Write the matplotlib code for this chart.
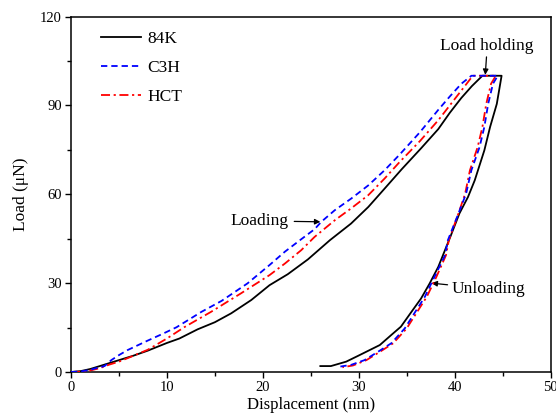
import matplotlib
matplotlib.use("Agg")
import matplotlib.pyplot as plt
from matplotlib.ticker import MultipleLocator

plt.rcParams['font.family'] = ['Liberation Serif', 'DejaVu Serif']
plt.rcParams['mathtext.fontset'] = 'stix'

# 84K: loading, hold, unloading
k84_load_x = [0, 1, 2, 3, 4, 5, 6.5, 8, 10, 11.3, 13.2, 15, 16.7, 18.8, 20.7, 22.6,
              24.7, 27.0, 29.2, 31.0, 32.7, 34.5, 36.5, 38.3, 39.5, 40.7, 41.8, 42.9]
k84_load_y = [0, 0.3, 1.0, 2.0, 3.0, 4.0, 5.5, 7.2, 9.8, 11.3, 14.4, 16.8, 19.8, 24.3,
              29.3, 33.0, 38.0, 44.5, 50.1, 55.7, 61.9, 68.5, 75.5, 82.0, 87.5, 92.5,
              96.5, 100]
k84_hold_x = [42.9, 44.9]
k84_hold_y = [100, 100]
k84_unload_x = [44.9, 44.4, 43.7, 43.1, 42.1, 41.4, 40.5, 39.6, 38.3, 37.4, 36.5,
                35.5, 34.4, 33.4, 32.2, 29.9, 28.7, 27.1, 26.0]
k84_unload_y = [100, 90.5, 82.7, 74.8, 64.7, 59.1, 53.5, 46.0, 35.5, 29.9, 24.8,
                20.3, 15.3, 12.5, 9.1, 5.4, 3.5, 2.0, 2.0]

# C3H
c3h_load_x = [0, 1, 2, 2.5, 3.5, 4.2, 5.0, 5.9, 8.0, 9.5, 11.0, 13.6, 15.7, 18.4,
              20.7, 22.3, 24.0, 25.4, 26.1, 27.5, 29.2, 31.0, 32.7, 34.3, 36.4,
              38.3, 39.5, 40.7, 41.75]
c3h_load_y = [0, 0.2, 0.7, 1.2, 2.0, 4.0, 5.7, 7.4, 10.6, 12.8, 15.1, 20.3, 24.0,
              29.9, 36.1, 40.6, 44.8, 48.2, 50.7, 54.6, 58.5, 63.0, 68.1, 73.5, 81.0,
              88.5, 93.0, 97.3, 100]
c3h_hold_x = [41.75, 44.5]
c3h_hold_y = [100, 100]
c3h_unload_x = [44.5, 44.0, 43.5, 43.1, 42.6, 41.75, 41.2, 40.4, 39.3, 39.0, 37.9,
                36.9, 35.8, 34.8, 33.4, 32.0, 30.6, 29.2, 28.0]
c3h_unload_y = [100, 97.3, 90.5, 82.7, 75.9, 68.1, 60.2, 53.5, 44.5, 39.4, 32.1,
                25.4, 19.8, 14.7, 9.7, 6.8, 4.0, 2.4, 1.8]

# HCT
hct_load_x = [0, 1, 2, 3, 4, 5, 6, 8, 10, 11.8, 14.6, 17.7, 20.7, 22.3, 24.0, 25.4,
              27.5, 29.2, 31.0, 32.7, 34.3, 36.4, 38.3, 39.5, 40.7, 41.9]
hct_load_y = [0, 0.1, 0.5, 1.3, 2.5, 3.5, 4.8, 7.5, 11.3, 15.1, 20.3, 26.5, 32.7,
              36.6, 41.1, 45.6, 51.2, 55.2, 59.7, 65.3, 71.0, 78.0, 85.0, 90.0, 95.0,
              100]
hct_hold_x = [41.9, 44.3]
hct_hold_y = [100, 100]
hct_unload_x = [44.3, 43.8, 43.3, 42.9, 42.4, 41.6, 41.1, 40.4, 39.4, 39.1, 38.1,
                37.1, 36.0, 35.0, 33.6, 32.2, 30.8, 29.4, 28.3]
hct_unload_y = [100, 97.3, 90.5, 82.7, 75.9, 68.1, 60.2, 53.5, 44.5, 39.4, 32.1,
                25.4, 19.8, 14.7, 9.7, 6.8, 4.0, 2.2, 1.6]

fig = plt.figure(figsize=(5.56, 4.13), dpi=100)
W, H = 556, 413
x0, x1, y0, y1 = 71, 550.5, 16.5, 372
ax = fig.add_axes([x0 / W, 1 - y1 / H, (x1 - x0) / W, (y1 - y0) / H])

def series(lx, ly, hx, hy, ux, uy):
    return lx + hx[1:] + ux[1:], ly + hy[1:] + uy[1:]

bx, by = series(k84_load_x, k84_load_y, k84_hold_x, k84_hold_y, k84_unload_x, k84_unload_y)
cx, cy = series(c3h_load_x, c3h_load_y, c3h_hold_x, c3h_hold_y, c3h_unload_x, c3h_unload_y)
hx, hy = series(hct_load_x, hct_load_y, hct_hold_x, hct_hold_y, hct_unload_x, hct_unload_y)

ax.plot(bx, by, color='black', lw=1.3, label='84K', zorder=3)
ax.plot(hx, hy, color='red', lw=1.3, linestyle=(0, (5, 2, 1.2, 2)), label='HCT', zorder=4)
ax.plot(cx, cy, color='blue', lw=1.3, linestyle=(0, (3.5, 2.2)), label='C3H', zorder=5)

ax.set_xlim(0, 50)
ax.set_ylim(0, 120)
ax.xaxis.set_major_locator(MultipleLocator(10))
ax.xaxis.set_minor_locator(MultipleLocator(5))
ax.yaxis.set_major_locator(MultipleLocator(30))
ax.yaxis.set_minor_locator(MultipleLocator(15))
ax.tick_params(which='both', direction='out', top=False, right=False,
               labelsize=10.5, width=1.0, pad=2)
ax.tick_params(which='major', length=4.5)
ax.tick_params(which='minor', length=3)
for s in ax.spines.values():
    s.set_linewidth(1.1)

ax.set_xlabel('Displacement (nm)', fontsize=12, labelpad=2)
ax.set_ylabel('Load (μN)', fontsize=12.5, labelpad=8)

handles, labels = ax.get_legend_handles_labels()
order = [0, 2, 1]
ax.legend([handles[i] for i in order], [labels[i] for i in order],
          loc='upper left', bbox_to_anchor=(0.030, 1.004), frameon=False,
          fontsize=12.5, handlelength=2.3, handletextpad=0.35, labelspacing=0.75)

ax.annotate('Load holding', xy=(43.2, 100.3), xytext=(43.4, 107.3),
            ha='center', va='bottom', fontsize=12.5,
            arrowprops=dict(arrowstyle='-|>', color='black', lw=0.9,
                            mutation_scale=8, shrinkA=0, shrinkB=0))
ax.annotate('Loading', xy=(26.0, 50.7), xytext=(22.7, 51.0),
            ha='right', va='center', fontsize=12.5,
            arrowprops=dict(arrowstyle='-|>', color='black', lw=0.9,
                            mutation_scale=8, shrinkA=2, shrinkB=0))
ax.annotate('Unloading', xy=(37.6, 30.0), xytext=(39.7, 28.0),
            ha='left', va='center', fontsize=12.5,
            arrowprops=dict(arrowstyle='-|>', color='black', lw=0.9,
                            mutation_scale=8, shrinkA=1, shrinkB=0))

fig.savefig('out.png', dpi=100)
